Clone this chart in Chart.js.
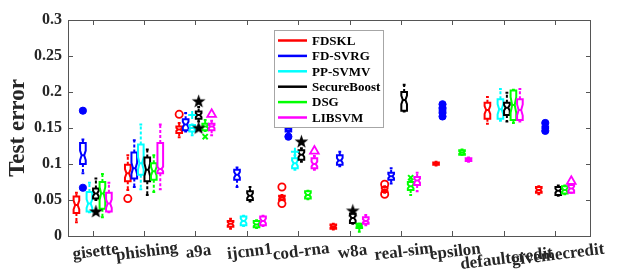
<!DOCTYPE html>
<html>
<head>
<meta charset="utf-8">
<script src="https://cdn.jsdelivr.net/npm/chart.js@4.4.1/dist/chart.umd.min.js"></script>
<style>
  body { margin: 0; background: #fff; }
  canvas { display: block; }
</style>
</head>
<body>
<canvas id="boxChart" width="634" height="277"></canvas>
<script>
const categories = ['gisette', 'phishing', 'a9a', 'ijcnn1', 'cod-rna', 'w8a', 'real-sim', 'epsilon', 'defaultcredit', 'givemecredit'];
const methods = ['FDSKL', 'FD-SVRG', 'PP-SVMV', 'SecureBoost', 'DSG', 'LIBSVM'];
const colors = ['#ff0000', '#0000ff', '#00ffff', '#000000', '#00ff00', '#ff00ff'];
const offsets = [-0.316, -0.19, -0.063, 0.063, 0.19, 0.316];
const yTicks = [0, 0.05, 0.1, 0.15, 0.2, 0.25, 0.3];

// [whisker low, q1, median, q3, whisker high] per dataset, null = no result
const fdskl = [
  [0.019, 0.032, 0.043, 0.055, 0.060], [0.064, 0.076, 0.087, 0.099, 0.112], [0.137, 0.143, 0.148, 0.152, 0.157],
  [0.010, 0.013, 0.017, 0.021, 0.024], [0.050, 0.050, 0.053, 0.056, 0.057], [0.009, 0.010, 0.013, 0.016, 0.017],
  [0.060, 0.061, 0.064, 0.068, 0.069], [0.098, 0.099, 0.100, 0.102, 0.103], [0.156, 0.163, 0.175, 0.185, 0.193],
  [0.058, 0.060, 0.064, 0.068, 0.069]
];
const fdsvrg = [
  [0.087, 0.100, 0.112, 0.129, 0.134], [0.068, 0.080, 0.094, 0.116, 0.133], [0.145, 0.147, 0.155, 0.162, 0.171],
  [0.068, 0.078, 0.085, 0.092, 0.095], [0.144, 0.145, 0.147, 0.150, 0.152], [0.097, 0.099, 0.105, 0.112, 0.117],
  [0.073, 0.078, 0.083, 0.088, 0.094], [0.174, 0.174, 0.175, 0.176, 0.176], null,
  [0.150, 0.150, 0.151, 0.152, 0.152]
];
const ppsvmv = [
  [0.033, 0.034, 0.045, 0.061, 0.074], [0.065, 0.085, 0.101, 0.127, 0.155], [0.140, 0.145, 0.150, 0.154, 0.155],
  [0.014, 0.015, 0.021, 0.027, 0.028], [0.092, 0.094, 0.101, 0.108, 0.112], null,
  null, null, [0.160, 0.163, 0.176, 0.190, 0.204],
  null
];
const secureboost = [
  [0.050, 0.052, 0.059, 0.066, 0.080], [0.057, 0.076, 0.092, 0.109, 0.120], [0.159, 0.163, 0.168, 0.173, 0.179],
  [0.048, 0.050, 0.056, 0.062, 0.068], [0.103, 0.106, 0.113, 0.119, 0.122], [0.017, 0.018, 0.025, 0.031, 0.033],
  [0.173, 0.174, 0.189, 0.200, 0.210], null, [0.159, 0.168, 0.178, 0.185, 0.199],
  [0.056, 0.057, 0.063, 0.068, 0.070]
];
const dsg = [
  [0.026, 0.038, 0.059, 0.075, 0.086], [0.061, 0.078, 0.090, 0.101, 0.112], [0.146, 0.147, 0.152, 0.156, 0.161],
  [0.011, 0.012, 0.016, 0.021, 0.022], [0.051, 0.052, 0.057, 0.062, 0.063], [0.006, 0.011, 0.014, 0.017, 0.017],
  [0.057, 0.064, 0.069, 0.075, 0.077], [0.113, 0.113, 0.116, 0.119, 0.120], [0.157, 0.161, 0.182, 0.202, 0.203],
  [0.058, 0.059, 0.064, 0.069, 0.070]
];
const libsvm = [
  [0.033, 0.034, 0.045, 0.060, 0.074], [0.065, 0.087, 0.093, 0.129, 0.155], [0.140, 0.147, 0.152, 0.156, 0.160],
  [0.014, 0.015, 0.021, 0.027, 0.028], [0.092, 0.094, 0.100, 0.108, 0.111], [0.015, 0.017, 0.021, 0.026, 0.029],
  [0.062, 0.071, 0.077, 0.082, 0.088], [0.103, 0.104, 0.106, 0.108, 0.109], [0.159, 0.161, 0.175, 0.190, 0.204],
  [0.060, 0.060, 0.066, 0.071, 0.072]
];
const boxes = [fdskl, fdsvrg, ppsvmv, secureboost, dsg, libsvm];

// outliers: [category number, value]
const fdsklOut = [[2, 0.052], [3, 0.169], [5, 0.068], [5, 0.045], [7, 0.072], [7, 0.058]];
const fdsvrgOut = [[1, 0.174], [1, 0.067], [5, 0.138], [8, 0.166], [8, 0.171], [8, 0.178], [8, 0.183], [10, 0.157], [10, 0.146]];
const ppsvmvOut = [[3, 0.168], [5, 0.117]];
const secureboostOut = [[1, 0.034], [3, 0.187], [3, 0.150], [5, 0.131], [6, 0.035]];
const dsgOut = [[3, 0.138], [7, 0.081]];
const libsvmOut = [[3, 0.169], [5, 0.118], [10, 0.076]];
const outliers = [fdsklOut, fdsvrgOut, ppsvmvOut, secureboostOut, dsgOut, libsvmOut];

const FONT = "'Liberation Serif', 'Times New Roman', serif";

// filled pentagram for the SecureBoost outliers
const starImg = document.createElement('canvas');
starImg.width = 15; starImg.height = 15;
(function () {
  const c = starImg.getContext('2d');
  c.fillStyle = '#000';
  c.beginPath();
  for (let i = 0; i < 10; i++) {
    const r = i % 2 === 0 ? 7.2 : 2.9;
    const a = -Math.PI / 2 + i * Math.PI / 5;
    const px = 7.5 + r * Math.cos(a), py = 7.8 + r * Math.sin(a);
    if (i === 0) c.moveTo(px, py); else c.lineTo(px, py);
  }
  c.closePath();
  c.fill();
})();

const markerStyles = [
  { pointStyle: 'circle', radius: 3.6, fill: 'rgba(0,0,0,0)', width: 1.8 },
  { pointStyle: 'circle', radius: 3.6, fill: '#0000ff', width: 1 },
  { pointStyle: 'cross', radius: 4, fill: 'rgba(0,0,0,0)', width: 2 },
  { pointStyle: starImg, radius: 7, fill: '#000', width: 1 },
  { pointStyle: 'crossRot', radius: 3.6, fill: 'rgba(0,0,0,0)', width: 2 },
  { pointStyle: 'triangle', radius: 5, fill: 'rgba(0,0,0,0)', width: 1.8 }
];

const datasets = methods.map((name, m) => ({
  label: name,
  data: outliers[m].map(([c, v]) => ({ x: c + offsets[m], y: v })),
  pointStyle: markerStyles[m].pointStyle,
  pointRadius: markerStyles[m].radius,
  pointBackgroundColor: markerStyles[m].fill,
  pointBorderColor: colors[m],
  pointBorderWidth: markerStyles[m].width
}));

const boxPlugin = {
  id: 'boxPlugin',
  beforeDatasetsDraw(chart) {
    const { ctx, scales: { x, y } } = chart;
    const bw = 0.11;
    ctx.save();
    boxes.forEach((rows, m) => {
      ctx.strokeStyle = colors[m];
      ctx.lineWidth = 2;
      rows.forEach((r, i) => {
        if (!r) return;
        const pos = i + 1 + offsets[m];
        const cx = x.getPixelForValue(pos);
        const half = x.getPixelForValue(pos + bw / 2) - cx;
        const [lo, q1, med, q3, hi] = r.map(v => y.getPixelForValue(v));
        // dashed whiskers
        ctx.setLineDash([3, 2]);
        ctx.beginPath();
        ctx.moveTo(cx, q3); ctx.lineTo(cx, hi);
        ctx.moveTo(cx, q1); ctx.lineTo(cx, lo);
        ctx.stroke();
        ctx.setLineDash([]);
        ctx.beginPath();
        ctx.moveTo(cx - half * 0.5, hi); ctx.lineTo(cx + half * 0.5, hi);
        ctx.moveTo(cx - half * 0.5, lo); ctx.lineTo(cx + half * 0.5, lo);
        ctx.stroke();
        // notched box
        const d = 0.55 * Math.min(med - q3, q1 - med);
        const nx = half * 0.45;
        ctx.beginPath();
        ctx.moveTo(cx - half, q3);
        ctx.lineTo(cx + half, q3);
        ctx.lineTo(cx + half, med - d);
        ctx.lineTo(cx + nx, med);
        ctx.lineTo(cx + half, med + d);
        ctx.lineTo(cx + half, q1);
        ctx.lineTo(cx - half, q1);
        ctx.lineTo(cx - half, med + d);
        ctx.lineTo(cx - nx, med);
        ctx.lineTo(cx - half, med - d);
        ctx.closePath();
        ctx.moveTo(cx - nx, med); ctx.lineTo(cx + nx, med);
        ctx.stroke();
      });
    });
    ctx.restore();
  }
};

const framePlugin = {
  id: 'framePlugin',
  afterDraw(chart) {
    const { ctx, chartArea: a, scales: { x, y } } = chart;
    ctx.save();
    ctx.strokeStyle = '#555';
    ctx.lineWidth = 1;
    ctx.strokeRect(a.left + 0.5, a.top + 0.5, a.right - a.left - 1, a.bottom - a.top);
    ctx.beginPath();
    yTicks.forEach(v => {
      const py = Math.round(y.getPixelForValue(v)) + 0.5;
      ctx.moveTo(a.left, py); ctx.lineTo(a.left + 5, py);
      ctx.moveTo(a.right, py); ctx.lineTo(a.right - 5, py);
    });
    categories.forEach((c, i) => {
      const px = Math.round(x.getPixelForValue(i + 1)) + 0.5;
      ctx.moveTo(px, a.bottom); ctx.lineTo(px, a.bottom - 5);
      ctx.moveTo(px, a.top); ctx.lineTo(px, a.top + 5);
    });
    ctx.stroke();

    // category labels, slightly tilted
    ctx.fillStyle = '#262626';
    ctx.font = 'bold 17px ' + FONT;
    ctx.textAlign = 'center';
    ctx.textBaseline = 'middle';
    categories.forEach((c, i) => {
      const px = x.getPixelForValue(i + 1) + 3;
      const py = a.bottom + (i === 8 ? 23 : i === 9 ? 19 : 16);
      ctx.save();
      ctx.translate(px, py);
      ctx.rotate(-7 * Math.PI / 180);
      ctx.fillText(c, 0, 0);
      ctx.restore();
    });

    // legend box
    const lx = 274, ly = 30, lw = 109, lh = 97;
    ctx.fillStyle = '#fff';
    ctx.fillRect(lx, ly, lw, lh);
    ctx.strokeStyle = '#a6a6a6';
    ctx.lineWidth = 1;
    ctx.strokeRect(lx + 0.5, ly + 0.5, lw, lh);
    ctx.font = 'bold 13px ' + FONT;
    ctx.textAlign = 'left';
    methods.forEach((name, m) => {
      const ry = ly + 10.5 + m * 15.4;
      ctx.strokeStyle = colors[m];
      ctx.lineWidth = 2.5;
      ctx.beginPath();
      ctx.moveTo(lx + 4, ry); ctx.lineTo(lx + 33, ry);
      ctx.stroke();
      ctx.fillStyle = '#000';
      ctx.fillText(name, lx + 38, ry + 1);
    });
    ctx.restore();
  }
};

new Chart(document.getElementById('boxChart'), {
  type: 'scatter',
  data: { datasets },
  plugins: [boxPlugin, framePlugin],
  options: {
    responsive: false,
    animation: false,
    layout: { padding: { top: 20, right: 43, left: 0, bottom: 0 } },
    plugins: { legend: { display: false }, tooltip: { enabled: false } },
    scales: {
      x: {
        type: 'linear', min: 0.52, max: 10.7,
        ticks: { display: false },
        grid: { display: false, drawTicks: false },
        border: { display: false },
        afterFit: s => { s.height = 41; }
      },
      y: {
        min: 0, max: 0.3,
        afterBuildTicks: s => { s.ticks = yTicks.map(v => ({ value: v })); },
        ticks: {
          color: '#262626', padding: 6,
          font: { family: FONT, size: 16, weight: 'bold' },
          callback: v => String(+v.toFixed(2))
        },
        grid: { display: false, drawTicks: false },
        border: { display: false },
        title: {
          display: true, text: 'Test error', color: '#262626',
          font: { family: FONT, size: 23, weight: 'bold' }, padding: { top: 4, bottom: 0 }
        },
        afterFit: s => { s.width = 68; }
      }
    }
  }
});
</script>
</body>
</html>
